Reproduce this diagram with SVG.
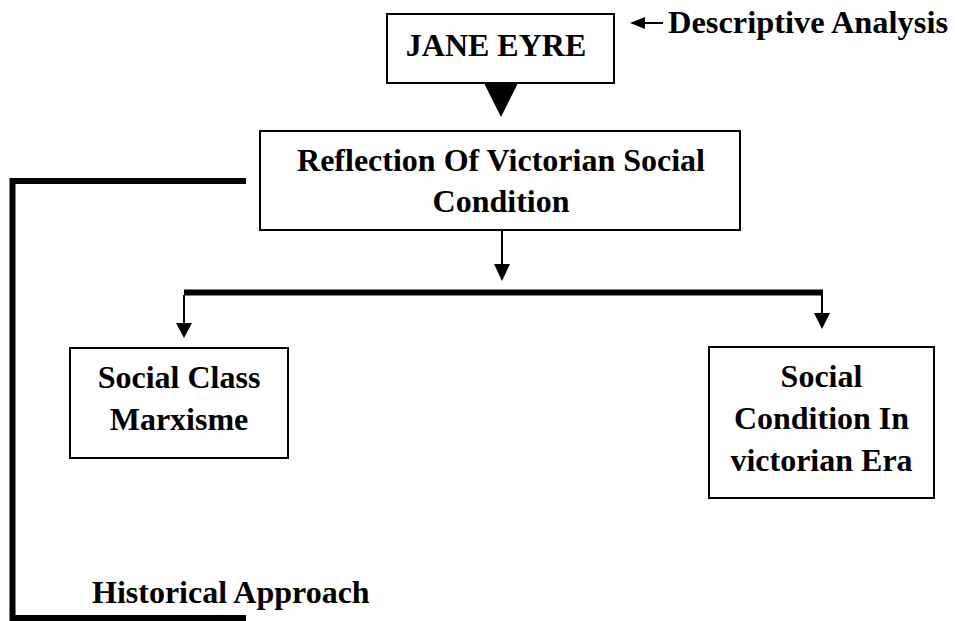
<svg xmlns="http://www.w3.org/2000/svg" width="955" height="621" viewBox="0 0 955 621">
<style>
.box{fill:#fff;stroke:#000;stroke-width:2}
.t{font-family:"Liberation Serif","Times New Roman",serif;font-weight:bold;font-size:32px;fill:#000;text-anchor:middle}
.thin{stroke:#000;stroke-width:2;fill:none}
.thick{stroke:#000;stroke-width:6;fill:none}
.head{fill:#000}
</style>
<rect width="955" height="621" fill="#fff"/>
<g id="connectors">
<polygon class="head" points="484,83 518,83 501,117"/>
<line class="thin" x1="502" y1="230" x2="502" y2="266"/>
<polygon class="head" points="494,264 510,264 502,281"/>
<line class="thick" x1="184" y1="292.5" x2="823" y2="292.5"/>
<line class="thin" x1="184" y1="295" x2="184" y2="325"/>
<polygon class="head" points="176,323 192,323 184,338"/>
<line class="thin" x1="822" y1="295" x2="822" y2="315"/>
<polygon class="head" points="814,313 830,313 822,329"/>
<path class="thick" d="M246,181 H12.5 V618 H246" stroke-width="5"/>
<line class="thin" x1="643" y1="23" x2="663" y2="23"/>
<polygon class="head" points="630,23 645,17 645,29"/>
</g>
<g id="jane-eyre">
<rect class="box" x="387" y="14" width="227" height="69"/>
<text class="t" x="496" y="56">JANE EYRE</text>
</g>
<g id="descriptive-analysis">
<text class="t" x="668" y="33" style="text-anchor:start" textLength="280" lengthAdjust="spacingAndGlyphs">Descriptive Analysis</text>
</g>
<g id="reflection">
<rect class="box" x="260" y="131" width="480" height="99"/>
<text class="t" x="501" y="171">Reflection Of Victorian Social</text>
<text class="t" x="501" y="212">Condition</text>
</g>
<g id="social-class">
<rect class="box" x="70" y="348" width="218" height="110"/>
<text class="t" x="179" y="388">Social Class</text>
<text class="t" x="179" y="430">Marxisme</text>
</g>
<g id="social-condition">
<rect class="box" x="709" y="347" width="225" height="151"/>
<text class="t" x="821.5" y="387">Social</text>
<text class="t" x="821.5" y="429">Condition In</text>
<text class="t" x="821.5" y="471">victorian Era</text>
</g>
<g id="historical-approach">
<text class="t" x="92" y="603" style="text-anchor:start">Historical Approach</text>
</g>
</svg>
